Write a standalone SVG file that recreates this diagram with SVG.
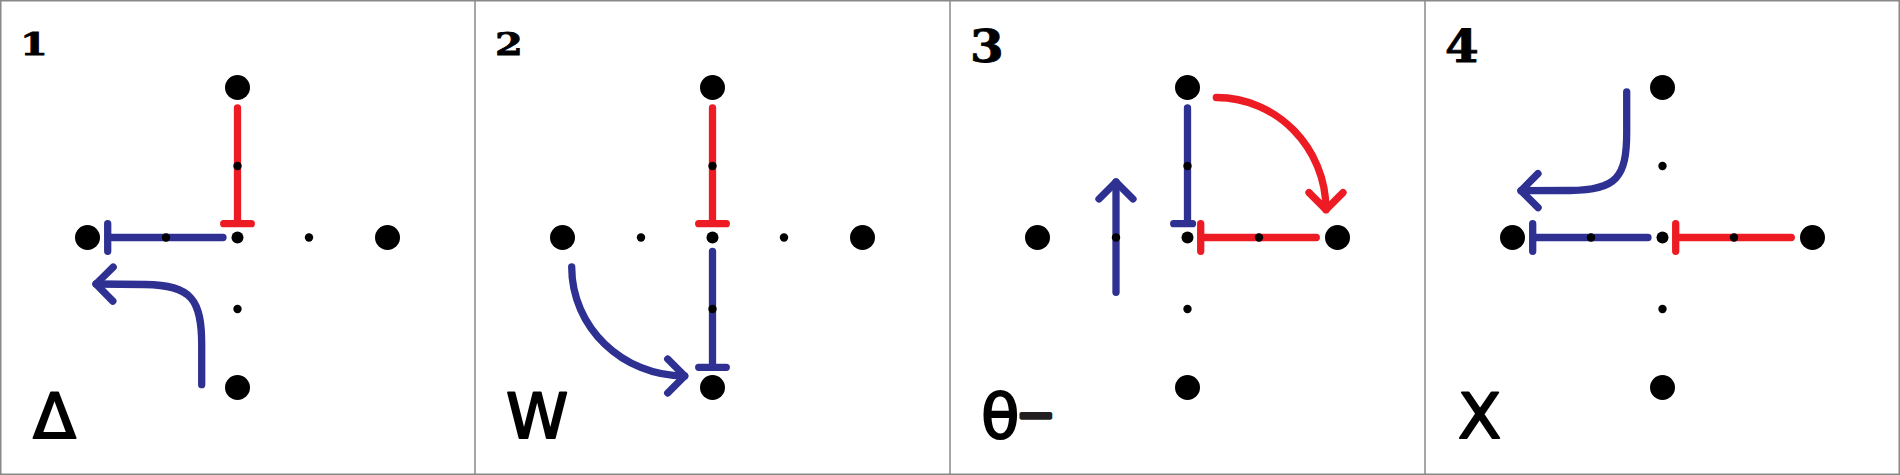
<svg xmlns="http://www.w3.org/2000/svg" width="1900" height="475" viewBox="0 0 1900 475">
<style>
.big{fill:#000}
.mid{fill:#000}
.sm{fill:#000}
.r{stroke:#ed1c24;stroke-width:7.3;fill:none;stroke-linecap:round;stroke-linejoin:round}
.b{stroke:#2e3192;stroke-width:7.3;fill:none;stroke-linecap:round;stroke-linejoin:round}
.num{font-family:"DejaVu Serif",serif;font-weight:bold;fill:#000;stroke:#000;stroke-width:0.8}
.lbl{font-family:"DejaVu Sans",sans-serif;font-size:63px;fill:#000;stroke:#000;stroke-width:2;stroke-linejoin:round;stroke-linecap:round}
.frame{fill:none;stroke:#888;stroke-width:1.5}
</style>
<defs>
<marker id="hb" markerUnits="userSpaceOnUse" orient="auto" refX="0" refY="0" markerWidth="1" markerHeight="1" style="overflow:visible">
<path d="M-17,-17 L0,0 L-17,17" class="b"/>
</marker>
<marker id="hr" markerUnits="userSpaceOnUse" orient="auto" refX="0" refY="0" markerWidth="1" markerHeight="1" style="overflow:visible">
<path d="M-17,-17 L0,0 L-17,17" class="r"/>
</marker>
</defs>
<rect x="0" y="0" width="1900" height="475" fill="#fff"/>
<g id="frames">
<rect class="frame" x="0.75" y="0.75" width="1898.5" height="473.5"/>
<line class="frame" x1="475" y1="0" x2="475" y2="475"/>
<line class="frame" x1="950" y1="0" x2="950" y2="475"/>
<line class="frame" x1="1425" y1="0" x2="1425" y2="475"/>
</g>
<g id="connectors">
<g transform="translate(0,0)">
<path class="r" d="M237.5,108 V223.7 M223.7,223.7 H251.3"/>
<path class="b" d="M223,237.5 H107.7 M107.7,223.7 V251.3"/>
<path class="b" marker-end="url(#hb)" d="M201.7,384.7 V345 C201.7,300 192,285 145,284.5 L96,284"/>
</g>
<g transform="translate(475,0)">
<path class="r" d="M237.5,108 V223.7 M223.7,223.7 H251.3"/>
<path class="b" d="M237.5,251.3 V367.3 M223.7,367.3 H251.3"/>
<path class="b" marker-end="url(#hb)" d="M96.7,267 C96.7,327.2 147.3,376 209.7,376"/>
</g>
<g transform="translate(950,0)">
<path class="b" d="M237.5,108 V223.7 M223.7,223.7 H242.5"/>
<path class="r" d="M366.3,237.5 H250.7 M250.7,223.7 V251.3"/>
<path class="r" marker-end="url(#hr)" d="M266.3,97.5 C326.9,97.5 376,147.8 376,209.7"/>
<path class="b" marker-end="url(#hb)" d="M166,292.3 V182"/>
</g>
<g transform="translate(1425,0)">
<path class="b" d="M223,237.5 H107.7 M107.7,223.7 V251.3"/>
<path class="r" d="M366.3,237.5 H250.7 M250.7,223.7 V251.3"/>
<path class="b" marker-end="url(#hb)" d="M201.7,92 V132 C201.7,177 192,190 145,190.5 L96,190.7"/>
</g>
</g>
<g id="panel1" transform="translate(0,0)">
<g id="p1-top"><circle class="big" cx="237.5" cy="87.5" r="12.5"/></g>
<g id="p1-left"><circle class="big" cx="87.5" cy="237.5" r="12.5"/></g>
<g id="p1-right"><circle class="big" cx="387.5" cy="237.5" r="12.5"/></g>
<g id="p1-bottom"><circle class="big" cx="237.5" cy="387.5" r="12.5"/></g>
<g id="p1-center"><circle class="mid" cx="237.5" cy="237.5" r="6"/></g>
<g id="p1-n"><circle class="sm" cx="237.5" cy="166" r="4.2"/></g>
<g id="p1-w"><circle class="sm" cx="166" cy="237.5" r="4.2"/></g>
<g id="p1-e"><circle class="sm" cx="309" cy="237.5" r="4.2"/></g>
<g id="p1-s"><circle class="sm" cx="237.5" cy="309" r="4.2"/></g>
<g id="p1-num"><text class="num" transform="translate(20,55) scale(1.25,1)" font-size="32">1</text></g>
<g id="p1-label"><text class="lbl" x="33" y="438">Δ</text></g>
</g>
<g id="panel2" transform="translate(475,0)">
<g id="p2-top"><circle class="big" cx="237.5" cy="87.5" r="12.5"/></g>
<g id="p2-left"><circle class="big" cx="87.5" cy="237.5" r="12.5"/></g>
<g id="p2-right"><circle class="big" cx="387.5" cy="237.5" r="12.5"/></g>
<g id="p2-bottom"><circle class="big" cx="237.5" cy="387.5" r="12.5"/></g>
<g id="p2-center"><circle class="mid" cx="237.5" cy="237.5" r="6"/></g>
<g id="p2-n"><circle class="sm" cx="237.5" cy="166" r="4.2"/></g>
<g id="p2-w"><circle class="sm" cx="166" cy="237.5" r="4.2"/></g>
<g id="p2-e"><circle class="sm" cx="309" cy="237.5" r="4.2"/></g>
<g id="p2-s"><circle class="sm" cx="237.5" cy="309" r="4.2"/></g>
<g id="p2-num"><text class="num" transform="translate(20,55) scale(1.25,1)" font-size="32">2</text></g>
<g id="p2-label"><text class="lbl" x="31" y="438">W</text></g>
</g>
<g id="panel3" transform="translate(950,0)">
<g id="p3-top"><circle class="big" cx="237.5" cy="87.5" r="12.5"/></g>
<g id="p3-left"><circle class="big" cx="87.5" cy="237.5" r="12.5"/></g>
<g id="p3-right"><circle class="big" cx="387.5" cy="237.5" r="12.5"/></g>
<g id="p3-bottom"><circle class="big" cx="237.5" cy="387.5" r="12.5"/></g>
<g id="p3-center"><circle class="mid" cx="237.5" cy="237.5" r="6"/></g>
<g id="p3-n"><circle class="sm" cx="237.5" cy="166" r="4.2"/></g>
<g id="p3-w"><circle class="sm" cx="166" cy="237.5" r="4.2"/></g>
<g id="p3-e"><circle class="sm" cx="309" cy="237.5" r="4.2"/></g>
<g id="p3-s"><circle class="sm" cx="237.5" cy="309" r="4.2"/></g>
<g id="p3-num"><text class="num" transform="translate(20,62) scale(1.1,1)" font-size="44">3</text></g>
<g id="p3-label"><text class="lbl" x="31" y="438" stroke-width="3">θ<tspan font-size="46" dx="-3" dy="-8" fill="#231f20" stroke="#231f20" stroke-width="4">−</tspan></text></g>
</g>
<g id="panel4" transform="translate(1425,0)">
<g id="p4-top"><circle class="big" cx="237.5" cy="87.5" r="12.5"/></g>
<g id="p4-left"><circle class="big" cx="87.5" cy="237.5" r="12.5"/></g>
<g id="p4-right"><circle class="big" cx="387.5" cy="237.5" r="12.5"/></g>
<g id="p4-bottom"><circle class="big" cx="237.5" cy="387.5" r="12.5"/></g>
<g id="p4-center"><circle class="mid" cx="237.5" cy="237.5" r="6"/></g>
<g id="p4-n"><circle class="sm" cx="237.5" cy="166" r="4.2"/></g>
<g id="p4-w"><circle class="sm" cx="166" cy="237.5" r="4.2"/></g>
<g id="p4-e"><circle class="sm" cx="309" cy="237.5" r="4.2"/></g>
<g id="p4-s"><circle class="sm" cx="237.5" cy="309" r="4.2"/></g>
<g id="p4-num"><text class="num" transform="translate(20,62) scale(1.1,1)" font-size="44">4</text></g>
<g id="p4-label"><text class="lbl" x="33" y="438">X</text></g>
</g>
</svg>
